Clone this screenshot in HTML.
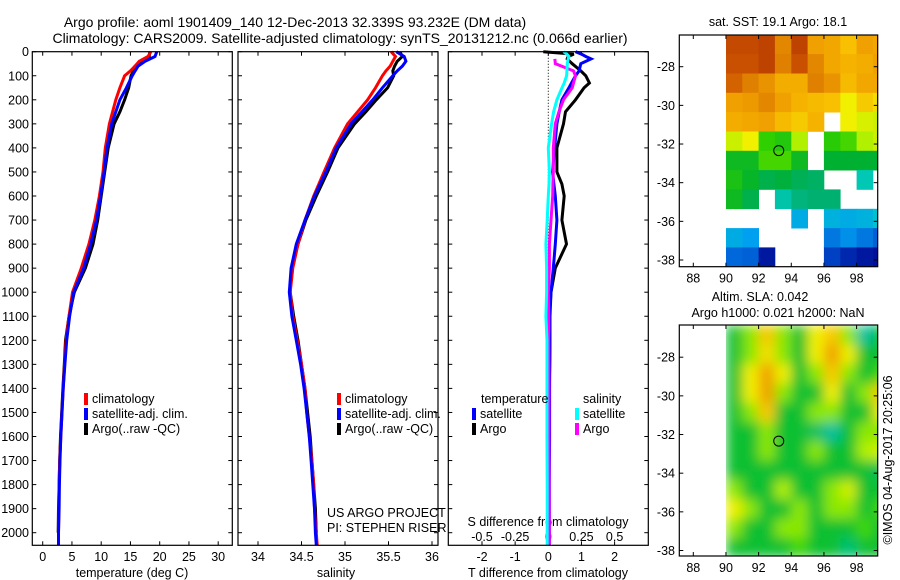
<!DOCTYPE html>
<html><head><meta charset="utf-8">
<style>
html,body{margin:0;padding:0;background:#fff;}
svg{display:block;font-family:"Liberation Sans",Arial,sans-serif;}
text{fill:#000;}
</style></head>
<body>
<svg id="fig" width="900" height="580" viewBox="0 0 900 580">
<defs>
<filter id="smooth" x="0" y="0" width="1" height="1" filterUnits="objectBoundingBox">
<feGaussianBlur stdDeviation="6" edgeMode="duplicate"/>
</filter>
</defs>
<text x="295" y="27" font-size="14" text-anchor="middle">Argo profile: aoml 1901409_140 12-Dec-2013 32.339S 93.232E (DM data)</text>
<text x="340" y="43" font-size="14" text-anchor="middle">Climatology: CARS2009. Satellite-adjusted climatology: synTS_20131212.nc (0.066d earlier)</text>
</svg>
<script>
// ---------- data ----------
const depthTicks = [0,100,200,300,400,500,600,700,800,900,1000,1100,1200,1300,1400,1500,1600,1700,1800,1900,2000];
const tempTicks = [0,5,10,15,20,25,30];
const salTicks = [34,34.5,35,35.5,36];
const salTickLabels = ["34","34.5","35","35.5","36"];
const tdiffTicks = [-2,-1,0,1,2];
const sdiffTicks = [-0.5,-0.25,0,0.25,0.5];
const sdiffTickLabels = ["-0.5","-0.25","0","0.25","0.5"];

const climDepth = [0,20,40,60,80,100,150,200,300,400,500,600,700,800,900,1000,1100,1200,1300,1400,1500,1600,1700,1800,1900,2000,2052];
const climTemp  = [18.5,18,16.5,15.8,15,14,13.2,12.5,11.4,10.7,10.3,9.7,8.9,7.9,6.6,5.1,4.5,4.0,3.75,3.5,3.3,3.1,2.9,2.8,2.75,2.7,2.7];
const satTemp   = [19.5,19.2,17.5,16.3,15.8,15.3,14.3,13.2,11.8,11.0,10.5,9.9,9.2,8.2,7.0,5.3,4.6,4.1,3.8,3.5,3.3,3.1,2.95,2.85,2.8,2.7,2.7];
const argoDepth = [0,20,40,60,80,100,150,200,250,300,400,500,600,700,800,900,1000,1100,1200,1300,1400,1500,1600,1700,1800,1900,2000];
const argoTemp  = [18.3,18.2,17,15.8,15.5,15.1,14.7,14,13.2,12.2,11.2,10.6,10,9.4,8.6,7.3,5.4,4.5,3.9,3.7,3.45,3.25,3.05,2.9,2.8,2.7,2.65];

const climSal = [35.53,35.58,35.55,35.52,35.47,35.43,35.35,35.26,35.03,34.88,34.76,34.64,34.54,34.46,34.40,34.37,34.40,34.45,34.50,34.54,34.56,34.59,34.62,34.64,34.65,34.67,34.68];
const satSal  = [35.59,35.68,35.70,35.66,35.60,35.55,35.43,35.32,35.07,34.90,34.78,34.65,34.54,34.44,34.38,34.36,34.39,34.44,34.49,34.53,34.56,34.59,34.61,34.63,34.65,34.66,34.67];
const argoSal = [35.63,35.66,35.60,35.57,35.55,35.56,35.49,35.36,35.24,35.11,34.92,34.80,34.67,34.55,34.46,34.39,34.37,34.41,34.46,34.50,34.54,34.57,34.60,34.62,34.64,34.66,34.67];

const diffDepth = [0,10,20,30,50,80,100,130,150,200,250,300,400,500,550,600,700,800,900,1000,1100,1200,1400,1600,1800,2000,2052];
const satTDiff  = [0.82,1.0,1.13,1.29,0.98,0.93,0.82,0.7,0.62,0.41,0.33,0.26,0.19,0.13,0.17,0.21,0.26,0.21,0.15,0.08,0.05,0.05,0.04,0.04,0.03,0.03,0.03];
const argoTDiff = [-0.15,0.77,0.6,0.57,0.72,0.98,1.13,1.24,1.08,0.82,0.52,0.46,0.26,0.26,0.41,0.48,0.41,0.55,0.21,0.08,0.03,0.05,0.03,0.02,0.02,0.02,null];
const satSDiff  = [0.115,0.14,0.155,0.15,0.143,0.14,0.138,0.12,0.103,0.065,0.04,0.025,0,0.008,0.005,0,-0.008,-0.018,-0.013,-0.013,-0.018,-0.01,-0.01,-0.01,-0.008,-0.008,-0.008];
const argoSDiff = [null,null,null,0.05,0.053,0.19,0.205,0.19,0.18,0.115,0.08,0.053,0.038,0.038,0.035,0.033,0.02,0.008,0.008,0,0.003,0.003,0.005,0.005,0.007,0.008,0.008];

const mapLons = [88,90,92,94,96,98];
const mapLats = [-28,-30,-32,-34,-36,-38];
const gridLon0 = 90, gridLat0 = -26.35, gridStep = 1;
const sstGrid = [
 [20.9,20.9,21.0,20.2,21.0,19.8,19.7,19.3,19.8,19.7],
 [20.8,20.8,21.0,20.3,20.8,20.2,19.7,19.5,19.6,19.8],
 [20.6,20.3,20.0,19.6,19.6,20.3,20.0,19.4,19.7,19.7],
 [19.8,19.9,20.2,19.8,19.5,19.4,19.3,18.8,19.2,19.0],
 [19.6,19.7,19.8,19.4,19.2,19.5,null,18.8,18.6,18.5],
 [18.5,18.8,17.7,17.5,18.3,null,17.6,17.8,18.3,18.5],
 [17.2,17.2,17.8,17.8,17.2,null,17.0,17.0,17.0,17.0],
 [17.4,17.1,16.8,16.9,16.7,16.6,null,null,15.9,null],
 [17.2,16.8,null,16.0,16.4,16.5,16.5,null,null,null],
 [null,null,null,null,15.2,null,15.3,15.2,15.3,15.6],
 [15.2,15.0,null,null,null,null,14.5,14.8,14.5,14.2],
 [14.3,14.2,13.3,null,null,null,13.8,13.5,13.3,13.2]
];
const slaGrid = [
 [0,0.05,0.15,0.05,0,0.1,0.15,0.05,-0.05,0],
 [0,0.05,0.12,0.05,0,0.1,0.2,0.1,0,0],
 [0,0.1,0.2,0.1,0,0.05,0.15,0.05,0,0.03],
 [0,0.1,0.2,0.05,0,0,0.1,0,0.05,0.15],
 [0,0.05,0.15,0,0,0.05,0.05,0,0,0.1],
 [0,0,0.05,0,0,-0.02,-0.05,0,0.05,0.05],
 [0,0,0.05,0,0,0.05,0,0,0.06,0.08],
 [0,0,0,0,0,0,0,0,0,-0.02],
 [0.05,0,0,0.06,0,0,0.05,0.08,0,0],
 [0.1,0.05,0,0,0.05,0,0.05,0.05,0,0.03],
 [0.05,0,0,0.05,0.05,0,0,0,0.03,0],
 [0,0,0,0,0.03,0,0,-0.03,0,0]
];
const floatLon = 93.232, floatLat = -32.339;

// ---------- helpers ----------
const NS = "http://www.w3.org/2000/svg";
const svg = document.getElementById('fig');
function mk(tag, attrs, parent) {
  const e = document.createElementNS(NS, tag);
  for (const k in attrs) e.setAttribute(k, attrs[k]);
  (parent || svg).appendChild(e);
  return e;
}
function txt(x, y, s, size, anchor, parent) {
  const t = mk('text', {x: x, y: y, 'font-size': size, 'text-anchor': anchor || 'start'}, parent);
  t.textContent = s;
  return t;
}
const Y0 = 51.7, YS = 0.2405, YB = 545.3;
const yDepth = d => Y0 + d * YS;
const xTemp = t => 42.7 + t * 5.85;
const xSal = s => 258 + (s - 34) * 87;
const xTD = t => 548.3 + t * 33.15;
const xSD = s => 548.3 + s * 4 * 33.15;
const xLon = l => 693.3 + (l - 88) * 16.33;
const yLat1 = l => 66.7 + (-28 - l) * 19.33;
const yLat2 = l => 357.2 + (-28 - l) * 19.33;

function frame(x0, x1, y0, y1, name) {
  const r = mk('rect', {x: x0, y: y0, width: x1 - x0, height: y1 - y0, fill: 'none', stroke: '#000', 'stroke-width': 1.2});
  
  
}
function line(vals, depths, xf, color, name) {
  const pts = [];
  for (let i = 0; i < depths.length; i++) {
    if (vals[i] === null || vals[i] === undefined) continue;
    pts.push(xf(vals[i]).toFixed(1) + ',' + yDepth(depths[i]).toFixed(1));
  }
  const p = mk('polyline', {points: pts.join(' '), fill: 'none', stroke: color, 'stroke-width': 3, 'stroke-linejoin': 'miter'});
  
  
}
function legendEntry(x, y, color, label, name) {
  const g = mk('g', {});
  
  
  mk('rect', {x: x, y: y - 10, width: 4, height: 12, fill: color}, g);
  txt(x + 8, y, label, 12.5, 'start', g);
}
function xTicksTopBottom(xs, x0, x1, y0, y1) {
  xs.forEach(x => {
    mk('line', {x1: x, x2: x, y1: y1, y2: y1 - 4, stroke: '#000'});
    mk('line', {x1: x, x2: x, y1: y0, y2: y0 + 4, stroke: '#000'});
  });
}
function depthTickMarks(x0, x1) {
  depthTicks.forEach(d => {
    const y = yDepth(d);
    mk('line', {x1: x0, x2: x0 + 4, y1: y, y2: y, stroke: '#000'});
    mk('line', {x1: x1, x2: x1 - 4, y1: y, y2: y, stroke: '#000'});
  });
}

// ---------- panel 1 ----------
const P1 = [32.3, 232.3];
depthTicks.forEach(d => {
  const t = txt(29, yDepth(d) + 4.5, String(d), 12.5, 'end');
  
  
});
depthTickMarks(P1[0], P1[1]);
xTicksTopBottom(tempTicks.map(xTemp), P1[0], P1[1], Y0, YB);
tempTicks.forEach(t => {
  const e = txt(xTemp(t), 561, String(t), 12.5, 'middle');
  
  
});
const t1 = txt(132, 577, 'temperature (deg C)', 12.5, 'middle');


line(argoTemp, argoDepth, xTemp, '#000', 'argo-temperature-line');
line(climTemp, climDepth, xTemp, '#f00', 'climatology-temperature-line');
line(satTemp, climDepth, xTemp, '#00f', 'satellite-temperature-line');
frame(P1[0], P1[1], Y0, YB, 'temperature-plot-frame');
legendEntry(84, 403, '#f00', 'climatology', 'legend-climatology');
legendEntry(84, 418, '#00f', 'satellite-adj. clim.', 'legend-satellite-adj');
legendEntry(84, 433, '#000', 'Argo(..raw -QC)', 'legend-argo');

// ---------- panel 2 ----------
const P2 = [238, 438];
depthTickMarks(P2[0], P2[1]);
xTicksTopBottom(salTicks.map(xSal), P2[0], P2[1], Y0, YB);
salTicks.forEach((s, i) => {
  const e = txt(xSal(s), 561, salTickLabels[i], 12.5, 'middle');
  
  
});
const t2 = txt(336, 577, 'salinity', 12.5, 'middle');


line(argoSal, argoDepth, xSal, '#000', 'argo-salinity-line');
line(climSal, climDepth, xSal, '#f00', 'climatology-salinity-line');
line(satSal, climDepth, xSal, '#00f', 'satellite-salinity-line');
frame(P2[0], P2[1], Y0, YB, 'salinity-plot-frame');
legendEntry(337, 403, '#f00', 'climatology', 'legend-climatology-sal');
legendEntry(337, 418, '#00f', 'satellite-adj. clim.', 'legend-satellite-adj-sal');
legendEntry(337, 433, '#000', 'Argo(..raw -QC)', 'legend-argo-sal');
const c1 = txt(327, 517, 'US ARGO PROJECT', 12.5, 'start');


const c2 = txt(327, 532, 'PI: STEPHEN RISER', 12.5, 'start');



// ---------- panel 3 ----------
const P3 = [448.3, 648.3];
depthTickMarks(P3[0], P3[1]);
xTicksTopBottom(tdiffTicks.map(xTD), P3[0], P3[1], Y0, YB);
mk('line', {x1: xTD(0), x2: xTD(0), y1: Y0, y2: yDepth(1100), stroke: '#000', 'stroke-dasharray': '1,2', 'stroke-width': 1});
tdiffTicks.forEach(t => {
  const e = txt(xTD(t), 561, String(t), 12.5, 'middle');
  
  
});
sdiffTicks.forEach((s, i) => {
  const e = txt(xSD(s), 541, sdiffTickLabels[i], 12.5, 'middle');
  
  
});
const t3 = txt(548, 577, 'T difference from climatology', 12.5, 'middle');


const t4 = txt(548, 526, 'S difference from climatology', 12.5, 'middle');


line(argoTDiff, diffDepth, xTD, '#000', 'argo-tdiff-line');
line(satTDiff, diffDepth, xTD, '#00f', 'satellite-tdiff-line');
line(argoSDiff, diffDepth, xSD, '#f0f', 'argo-sdiff-line');
line(satSDiff, diffDepth, xSD, '#0ff', 'satellite-sdiff-line');
frame(P3[0], P3[1], Y0, YB, 'difference-plot-frame');
const lt = txt(481, 403, 'temperature', 12.5, 'start');


const ls = txt(583, 403, 'salinity', 12.5, 'start');


legendEntry(472, 418, '#00f', 'satellite', 'legend-temp-satellite');
legendEntry(472, 433, '#000', 'Argo', 'legend-temp-argo');
legendEntry(575, 418, '#0ff', 'satellite', 'legend-sal-satellite');
legendEntry(575, 433, '#f0f', 'Argo', 'legend-sal-argo');

// ---------- maps ----------
function lerpColor(stops, v) {
  if (v <= stops[0][0]) return 'rgb(' + stops[0][1].join(',') + ')';
  for (let i = 1; i < stops.length; i++) {
    if (v <= stops[i][0]) {
      const a = stops[i-1], b = stops[i], f = (v - a[0]) / (b[0] - a[0]);
      const c = a[1].map((x, k) => Math.round(x + (b[1][k] - x) * f));
      return 'rgb(' + c.join(',') + ')';
    }
  }
  return 'rgb(' + stops[stops.length-1][1].join(',') + ')';
}
const sstStops = [[13,[0,0,140]],[14,[0,80,208]],[15,[0,160,240]],[15.8,[0,204,192]],[16.5,[0,176,112]],[17,[0,176,48]],[17.7,[48,208,0]],[18.3,[176,240,0]],[18.8,[240,240,0]],[19.3,[248,192,0]],[19.8,[240,160,0]],[20.3,[224,128,0]],[20.8,[200,80,0]],[21.3,[176,48,0]]];
const slaStops = [[-0.05,[0,192,160]],[0,[16,192,48]],[0.03,[64,216,0]],[0.06,[176,240,0]],[0.1,[240,240,0]],[0.15,[248,200,0]],[0.2,[240,160,0]]];

function drawMap(grid, stops, yLat, top, bottom, prefix, smooth) {
  const left = 679.3, right = 877.7;
  const clipId = prefix + '-clip';
  const cp = mk('clipPath', {id: clipId});
  mk('rect', {x: left, y: top, width: right - left, height: bottom - top}, cp);
  const outer = mk('g', {'clip-path': 'url(#' + clipId + ')'});
  const g = mk('g', smooth ? {filter: 'url(#smooth)'} : {}, outer);
  
  
  for (let r = 0; r < grid.length; r++) {
    for (let c = 0; c < grid[r].length; c++) {
      const v = grid[r][c];
      if (v === null) continue;
      const lon = gridLon0 + c * gridStep, lat = gridLat0 - r * gridStep;
      const x = xLon(lon), y = yLat(lat);
      const cell = mk('rect', {x: x.toFixed(1), y: y.toFixed(1), width: (xLon(lon + gridStep) - x + 0.4).toFixed(1), height: (yLat(lat - gridStep) - y + 0.4).toFixed(1), fill: lerpColor(stops, v)}, g);
      
      
    }
  }
  frame(left, right, top, bottom, prefix + '-frame');
  mapLons.forEach(l => {
    const x = xLon(l);
    mk('line', {x1: x, x2: x, y1: top, y2: top + 4, stroke: '#000'});
    mk('line', {x1: x, x2: x, y1: bottom, y2: bottom - 4, stroke: '#000'});
    const e = txt(x, bottom + 16, String(l), 12.5, 'middle');
    
    
  });
  mapLats.forEach(l => {
    const y = yLat(l);
    mk('line', {x1: left, x2: left + 4, y1: y, y2: y, stroke: '#000'});
    mk('line', {x1: right, x2: right - 4, y1: y, y2: y, stroke: '#000'});
    const e = txt(675, y + 4.5, String(l), 12.5, 'end');
    
    
  });
  const m = mk('ellipse', {cx: xLon(floatLon), cy: yLat(floatLat), rx: 5, ry: 5, fill: 'none', stroke: '#000', 'stroke-width': 1});
  
  
}
drawMap(sstGrid, sstStops, yLat1, 35, 266.7, 'sst-map', false);
drawMap(slaGrid, slaStops, yLat2, 325, 556, 'sla-map', true);

const mt1 = txt(778, 26, 'sat. SST: 19.1 Argo: 18.1', 12.5, 'middle');


const mt2 = txt(760, 301, 'Altim. SLA: 0.042', 12.5, 'middle');


const mt3 = txt(778, 317, 'Argo h1000: 0.021 h2000: NaN', 12.5, 'middle');


const stamp = txt(0, 0, '\u00A9IMOS 04-Aug-2017 20:25:06', 12.5, 'middle');
stamp.setAttribute('transform', 'translate(892,460) rotate(-90)');


</script>
</body></html>
